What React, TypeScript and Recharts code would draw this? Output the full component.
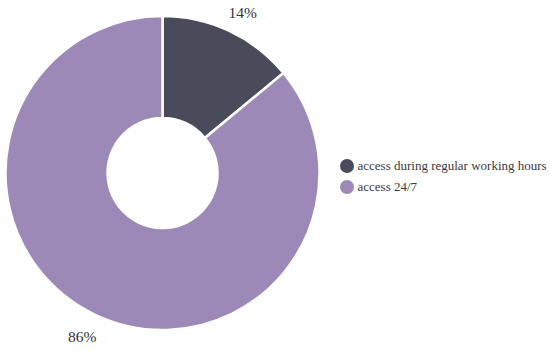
import React from 'react';
import { PieChart, Pie, Cell, Legend } from 'recharts';

const categories = ['access during regular working hours', 'access 24/7'];
const shares = [14, 86];
const colors = ['#4a4b5a', '#9d89b8'];

const data = categories.map((name, i) => ({ name, value: shares[i] }));

const RADIAN = Math.PI / 180;
const serif = "'Liberation Serif', 'Times New Roman', serif";

const renderLabel = (props: any) => {
    const { cx, cy, midAngle, outerRadius, value } = props;
    const r = outerRadius + 23.5;
    const a = (midAngle - 1.2) * RADIAN;
    const x = cx + r * Math.cos(-a);
    const y = cy + r * Math.sin(-a) + 1.5;
    return (
        <text x={x} y={y} textAnchor="middle" dominantBaseline="central" fill="#333" fontSize={15.5}
            fontFamily={serif}>
            {`${value}%`}
        </text>
    );
};

const renderLegend = () => (
    <div style={{ fontFamily: serif, fontSize: 13, color: '#3a3a3a', whiteSpace: 'nowrap' }}>
        {categories.map((c, i) => (
            <div key={c} style={{ display: 'flex', alignItems: 'center', height: 21.5 }}>
                <span style={{ display: 'inline-block', width: 14, height: 14, borderRadius: '50%', background: colors[i], marginRight: 4, flexShrink: 0 }} />
                <span>{c}</span>
            </div>
        ))}
    </div>
);

export default function App() {
    return (
        <div style={{ position: 'absolute', top: 0, left: 0, width: 550, height: 352, background: '#fff' }}>
            <PieChart width={550} height={352} margin={{ top: 0, right: 0, bottom: 0, left: 0 }}>
                <Pie
                    data={data}
                    dataKey="value"
                    cx={162.5}
                    cy={173}
                    innerRadius={55}
                    outerRadius={157}
                    startAngle={90}
                    endAngle={-270}
                    stroke="#fff"
                    strokeWidth={2.5}
                    label={renderLabel}
                    labelLine={false}
                    isAnimationActive={false}
                >
                    {data.map((d, i) => (
                        <Cell key={d.name} fill={colors[i]} />
                    ))}
                </Pie>
                <Legend
                    layout="vertical"
                    align="right"
                    verticalAlign="top"
                    content={renderLegend}
                    wrapperStyle={{ position: 'absolute', left: 339.5, top: 155, width: 210 }}
                />
            </PieChart>
        </div>
    );
}
